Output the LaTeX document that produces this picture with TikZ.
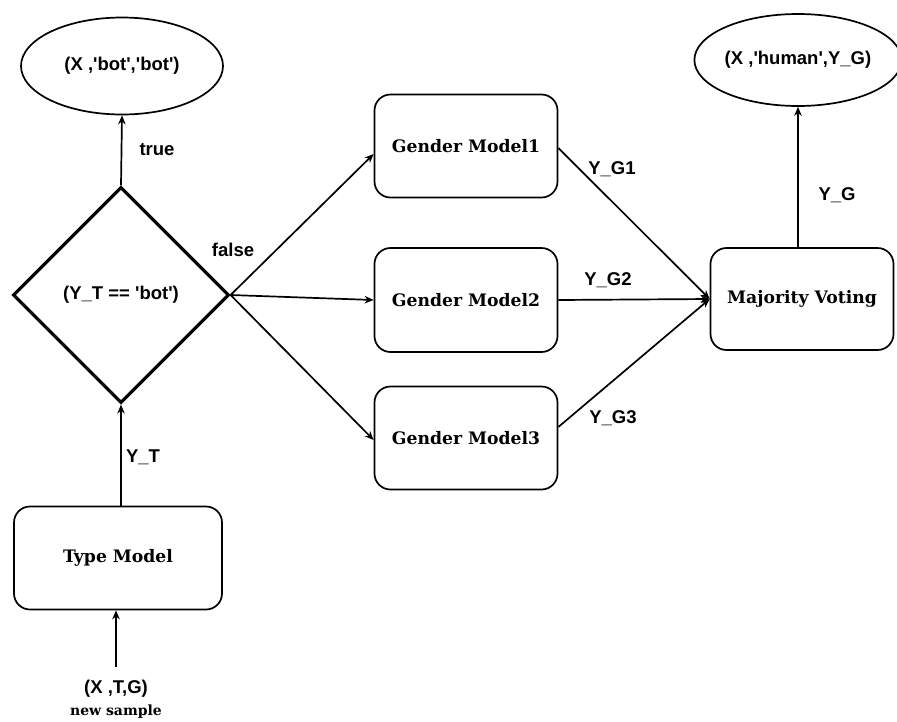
\documentclass[tikz,border=0pt]{standalone}
\usepackage{fontspec}
\newfontfamily\lab{Liberation Sans}
\newfontfamily\ser{DejaVu Serif}
\usetikzlibrary{shapes.geometric,arrows.meta}
\begin{document}
\begin{tikzpicture}[x=1pt,y=-1pt,
  lbl/.style={font=\lab\bfseries\fontsize{18.5}{20}\selectfont, inner sep=0pt},
  model/.style={draw, line width=1.7pt, rounded corners=16pt, font=\ser\bfseries\fontsize{17.2}{19}\selectfont, inner sep=0pt},
  oval/.style={draw, ellipse, line width=1.7pt, inner sep=0pt, font=\lab\bfseries\fontsize{18.5}{20}\selectfont},
  arr/.style={line width=1.7pt, -{Stealth[length=9pt,width=7.5pt]}}]
\useasboundingbox (0,0) rectangle (897,721);
% nodes
\node[oval, minimum width=202pt, minimum height=97pt] (bot) at (122,66) {(X ,'bot','bot')};
\node[oval, minimum width=194pt, minimum height=92pt] (hum) at (798,60) {(X ,'human',Y\_G)};
\node[draw, diamond, line width=3.2pt, minimum width=216pt, minimum height=216pt, inner sep=0pt,
      font=\lab\bfseries\fontsize{18.5}{20}\selectfont] (dec) at (121,295) {(Y\_T == 'bot')};
\node[model, minimum width=208pt, minimum height=103pt] (tm) at (118,558) {Type Model};
\node[model, minimum width=183pt, minimum height=103pt] (gm1) at (466,146) {Gender Model1};
\node[model, minimum width=183pt, minimum height=104pt] (gm2) at (466,300) {Gender Model2};
\node[model, minimum width=183pt, minimum height=103pt] (gm3) at (466,438) {Gender Model3};
\node[model, minimum width=183pt, minimum height=102pt] (mv) at (802,299) {Majority Voting};
\node[lbl] (src) at (116,689) {(X ,T,G)};
\node[font=\ser\bfseries\fontsize{14}{16}\selectfont, inner sep=0pt] (srcl) at (116,712) {new sample};
\coordinate (srctop) at (116,667);
% connectors
\draw[arr] (srctop) -- (srctop |- tm.south);
\draw[arr] (tm.north -| dec.south) -- (dec.south);
\draw[arr] (dec.north) -- (bot.south);
\draw[arr] (dec.east) -- ([yshift=-8pt]gm1.west);
\draw[arr] (dec.east) -- (gm2.west);
\draw[arr] (dec.east) -- ([yshift=-2pt]gm3.west);
\draw[arr] ([yshift=-2pt]gm1.east) -- (mv.west);
\draw[arr] (gm2.east) -- (mv.west);
\draw[arr] ([yshift=11pt]gm3.east) -- (mv.west);
\draw[arr] (mv.north -| hum.south) -- (hum.south);
% labels
\node[lbl] (ltrue) at (157,150) {true};
\node[lbl] (lfalse) at (233,250) {false};
\node[lbl] (lyt) at (143,457) {Y\_T};
\node[lbl] (lyg1) at (612,169) {Y\_G1};
\node[lbl] (lyg2) at (608,280) {Y\_G2};
\node[lbl] (lyg3) at (613,418) {Y\_G3};
\node[lbl] (lyg) at (837,195) {Y\_G};
\end{tikzpicture}
\end{document}
